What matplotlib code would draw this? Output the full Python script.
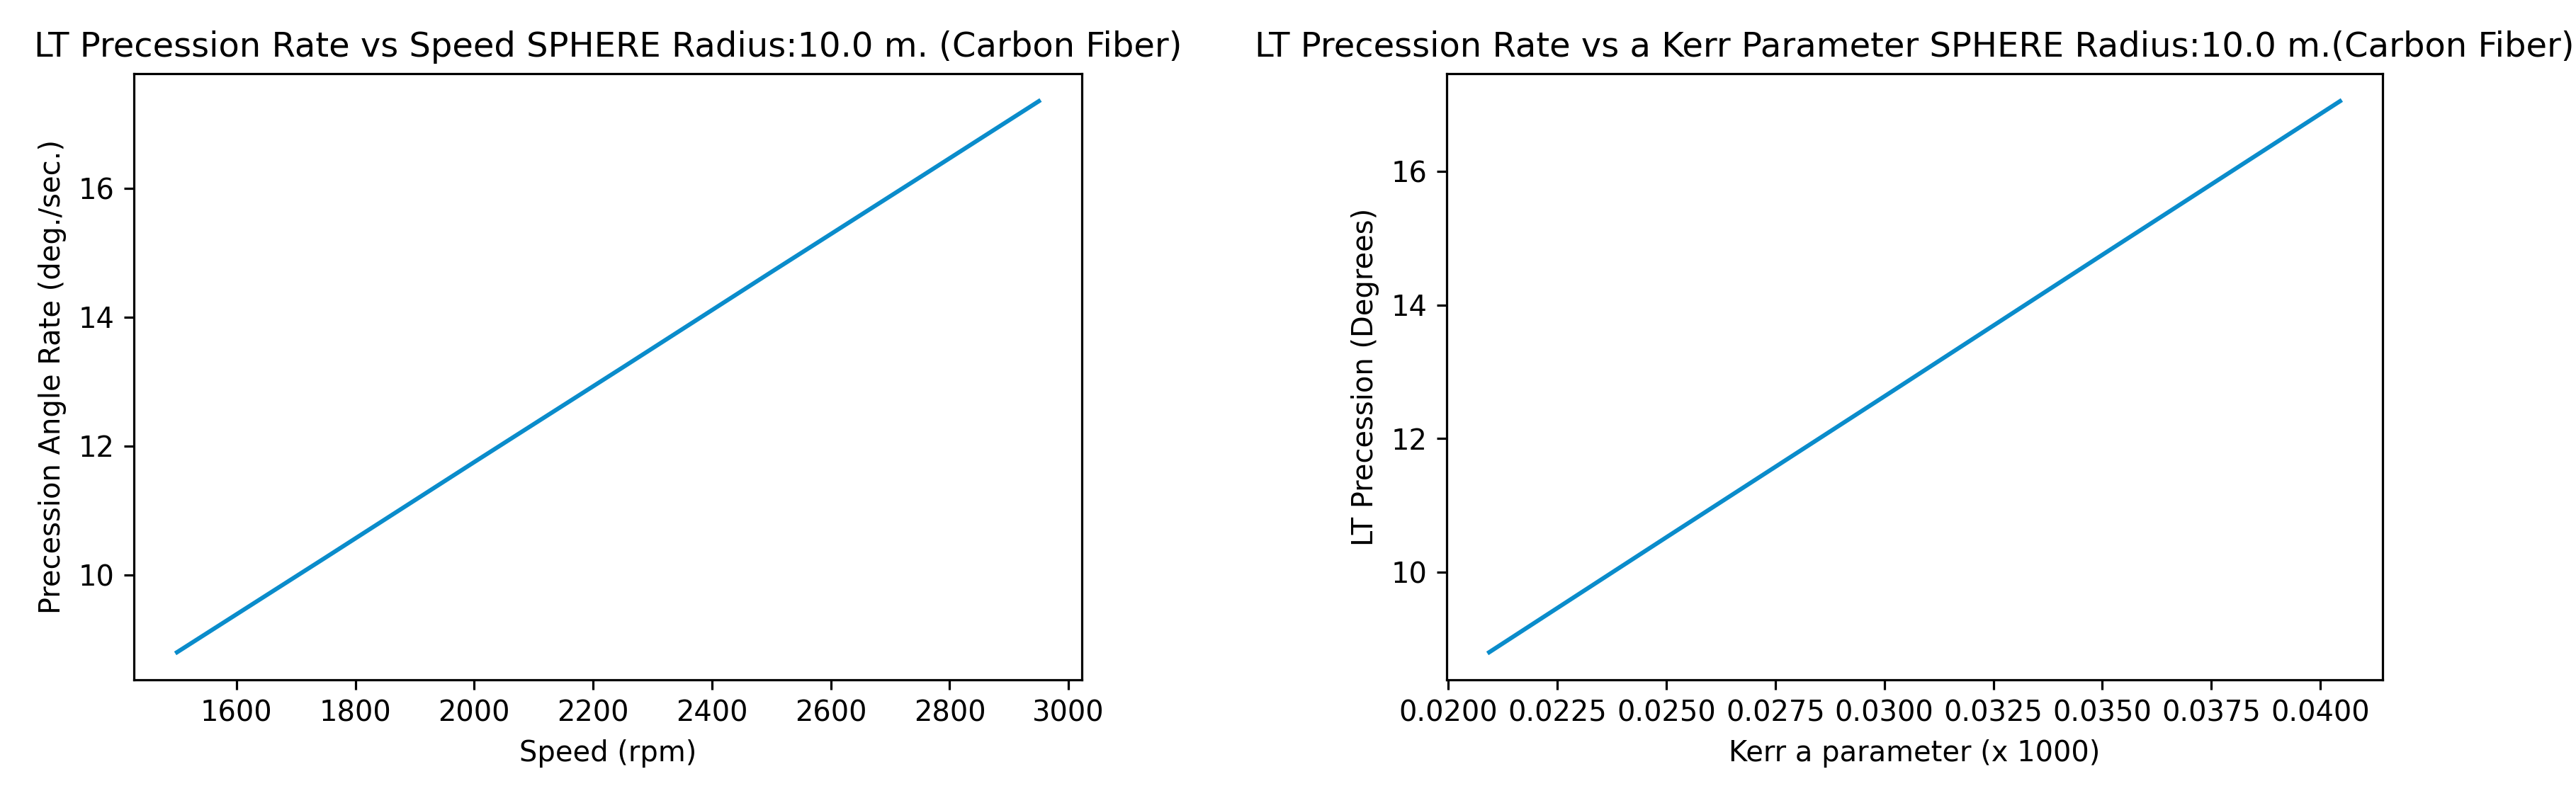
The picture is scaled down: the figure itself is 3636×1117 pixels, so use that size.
import matplotlib
matplotlib.use('Agg')
import matplotlib.pyplot as plt

# values
speed_rpm = [1500, 1750, 2000, 2250, 2500, 2750, 2950]
rate_deg_s = [8.80, 10.27, 11.75, 13.22, 14.70, 16.17, 17.35]

kerr_a = [0.02094, 0.0250, 0.0300, 0.0350, 0.04045]
lt_precession = [8.80, 10.52, 12.63, 14.75, 17.05]

line_color = '#0a8ccb'

fig, (ax1, ax2) = plt.subplots(1, 2, figsize=(3636 / 288, 1117 / 288), dpi=288)

ax1.plot(speed_rpm, rate_deg_s, color=line_color)
ax1.set_title('LT Precession Rate vs Speed SPHERE Radius:10.0 m. (Carbon Fiber)')
ax1.set_xlabel('Speed (rpm)')
ax1.set_ylabel('Precession Angle Rate (deg./sec.)')

ax2.plot(kerr_a, lt_precession, color=line_color)
ax2.set_title('LT Precession Rate vs a Kerr Parameter SPHERE Radius:10.0 m.(Carbon Fiber)')
ax2.set_xlabel('Kerr a parameter (x 1000)')
ax2.set_ylabel('LT Precession (Degrees)')

# place the axes where they sit in the reference
ax1.set_position([0.0520, 0.1406, 0.3680, 0.7663])
ax2.set_position([0.5616, 0.1406, 0.3633, 0.7663])

fig.savefig('out.png', dpi=288)
